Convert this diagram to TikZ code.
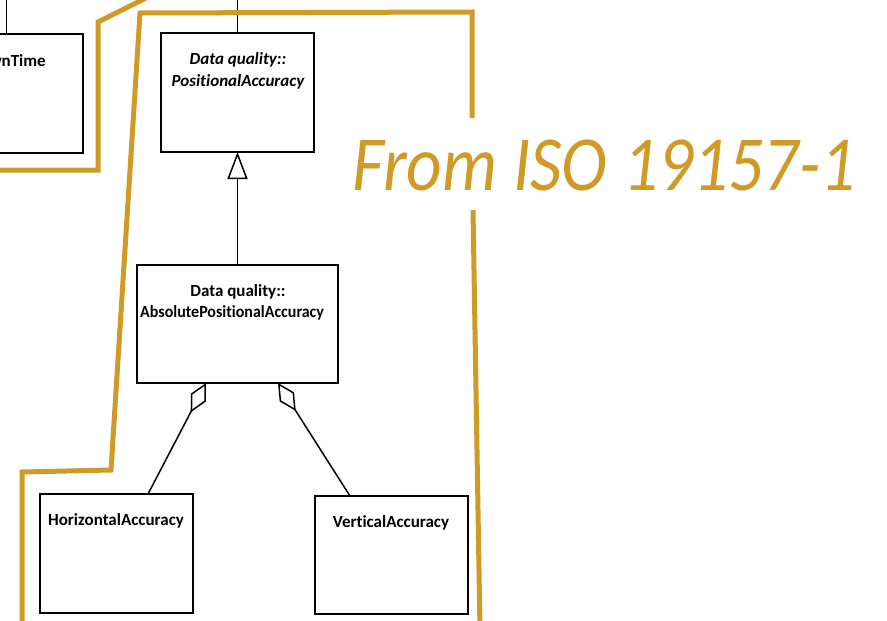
\documentclass[tikz,border=0pt]{standalone}
\usepackage{fontspec}
\setmainfont{Carlito}[Ligatures=NoCommon]
\usetikzlibrary{arrows.meta,calc}
\definecolor{gold}{RGB}{208,154,38}
\begin{document}
\begin{tikzpicture}[x=1pt,y=-1pt,
  umlbox/.style={draw=black,line width=1.5pt,fill=white,inner sep=0pt,outer sep=0pt,
    minimum width=#1},
  umlbox/.default=153pt,
  lbl/.style={inner sep=0pt,font=\fontsize{17}{19}\selectfont\bfseries},
  ilbl/.style={lbl,font=\fontsize{17}{19}\selectfont\bfseries\itshape},
  conn/.style={draw=black,line width=1.5pt},
  frame/.style={draw=gold,line width=5pt,line join=miter}]
\useasboundingbox (0,0) rectangle (887,621);
\clip (0,0) rectangle (887,621);
\fill[white] (0,0) rectangle (887,621);

% classes
\node[umlbox,minimum height=119pt] (own) at (6.5,93.5) {};
\node[umlbox,minimum height=119pt] (pos) at (237.5,92.5) {};
\node[umlbox=201pt,minimum height=118pt] (abs) at (237.5,324) {};
\node[umlbox,minimum height=119pt] (hor) at (116.5,553.5) {};
\node[umlbox,minimum height=118pt] (ver) at (391.5,555) {};

% class names
\node[lbl,anchor=east] (ownname) at (46,61) {wnTime};
\node[ilbl] (posname1) at (238,60) {Data quality::};
\node[ilbl] (posname2) at (238,82) {PositionalAccuracy};
\node[lbl] (absname1) at (238,292) {Data quality::};
\node[lbl,anchor=west,xscale=0.94] (absname2) at (140,313) {AbsolutePositionalAccuracy};
\node[lbl] (horname) at (116,521) {HorizontalAccuracy};
\node[lbl] (vername) at (391,523) {VerticalAccuracy};

% associations leaving the picture at the top
\coordinate (ownup) at (6.5,-2);
\coordinate (posup) at (237.5,-2);
\draw[conn] (ownup) -- (own.north);
\draw[conn] (posup) -- (pos.north);

% generalisation
\draw[conn,-{Triangle[open,length=27pt,width=20pt,line width=1.5pt]}] (abs.north) -- (pos.south);

% aggregations
\draw[conn,-{Diamond[open,length=33pt,width=17pt,line width=1.5pt]}]
  ($(hor.north)+(31.5,0)$) -- ($(abs.south)+(-31.5,0)$);
\draw[conn,-{Diamond[open,length=33pt,width=17pt,line width=1.5pt]}]
  ($(ver.north)+(-41.5,0)$) -- ($(abs.south)+(40.5,0)$);

% highlight outlines
\draw[frame] (150,-4) -- (98,22) -- (98,170) -- (-5,170);
\draw[frame] (472,118) -- (472,12) -- (140,13) -- (111,470) -- (22,472) -- (22,630);
\draw[frame] (473,210) -- (480,630);

\node[anchor=base west,inner sep=0pt,text=gold,xscale=0.89,
  font=\fontsize{78}{80}\selectfont\itshape]
  (src) at (352,190) {From ISO 19157-1};
\end{tikzpicture}
\end{document}
